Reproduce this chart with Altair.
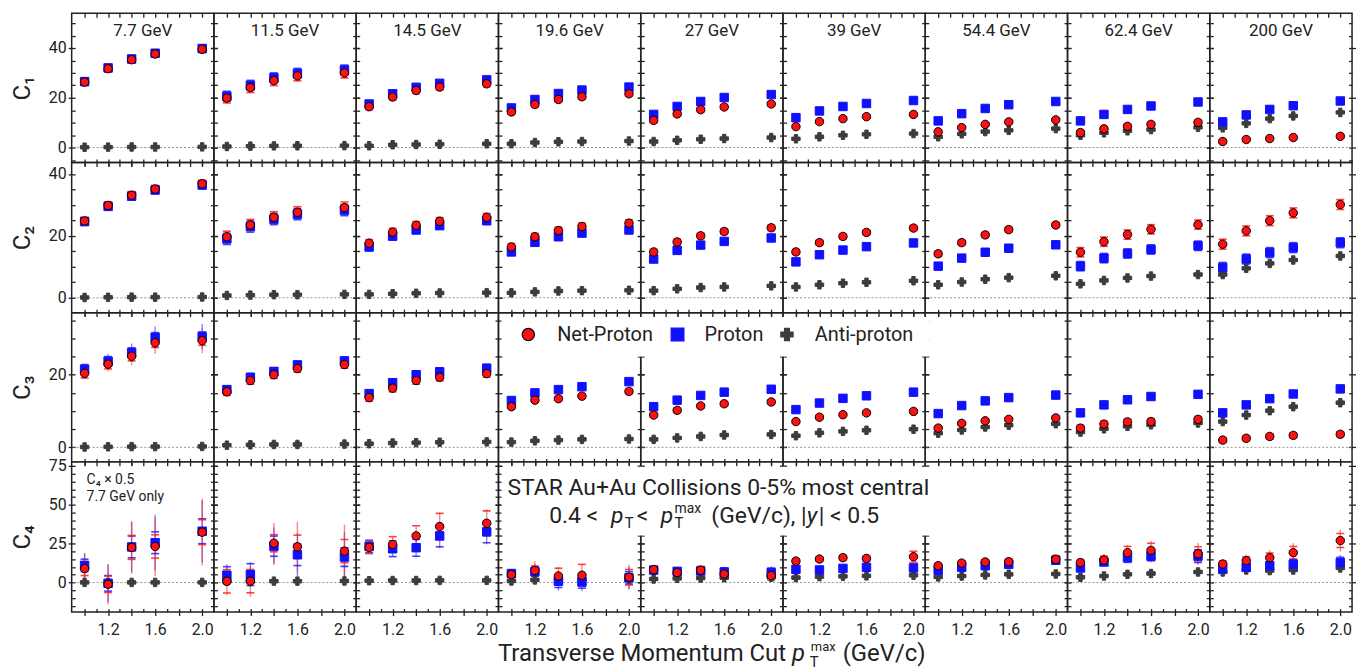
import altair as alt
import pandas as pd

# ---------------------------------------------------------------- data
energies = ["7.7", "11.5", "14.5", "19.6", "27", "39", "54.4", "62.4", "200"]
pt_max = [1.0, 1.2, 1.4, 1.6, 2.0]
moments = ["C1", "C2", "C3", "C4"]
moment_titles = ["C₁", "C₂", "C₃", "C₄"]
series_domain = ["Net-Proton", "Proton", "Anti-proton"]

# C1 (rows = energies, cols = pT max)
c1_net = [[26.3, 31.7, 35.3, 37.6, 39.5], [19.9, 24.1, 26.9, 28.8, 30.0], [16.4, 20.3, 22.9, 24.3, 25.6],
          [14.3, 17.3, 19.3, 20.4, 21.6], [10.9, 13.5, 15.2, 16.3, 17.5], [8.4, 10.4, 11.6, 12.4, 13.3],
          [6.3, 8.0, 9.3, 10.3, 11.1], [6.0, 7.5, 8.5, 9.3, 10.1], [2.4, 3.2, 3.6, 4.0, 4.5]]
c1_pro = [[26.5, 32.0, 35.6, 37.9, 39.8], [20.6, 25.0, 28.0, 29.8, 31.2], [17.5, 21.6, 24.2, 25.8, 27.2],
          [15.9, 19.3, 21.7, 23.1, 24.3], [13.3, 16.5, 18.5, 20.1, 21.3], [12.0, 14.7, 16.5, 17.7, 18.9],
          [10.7, 13.6, 15.7, 17.2, 18.5], [10.7, 13.3, 15.3, 16.7, 18.3], [10.3, 13.1, 15.3, 16.8, 18.7]]
c1_anti = [[0.1, 0.15, 0.2, 0.2, 0.25], [0.4, 0.55, 0.65, 0.7, 0.75], [0.7, 1.1, 1.2, 1.3, 1.5],
           [1.5, 2.0, 2.3, 2.4, 2.6], [2.4, 2.9, 3.3, 3.6, 4.0], [3.5, 4.3, 4.9, 5.3, 5.6],
           [4.3, 5.5, 6.4, 6.9, 7.6], [4.9, 5.9, 6.7, 7.2, 8.1], [7.9, 9.7, 11.6, 12.7, 14.1]]
c1_err = [1.3, 2.0, 1.2, 1.0, 0.9, 0.7, 0.6, 0.9, 0.8]

# C2
c2_net = [[24.8, 29.8, 33.1, 35.1, 36.8], [19.7, 23.5, 26.0, 27.6, 29.1], [17.6, 21.2, 23.4, 24.7, 26.0],
          [16.4, 19.7, 21.7, 23.0, 24.1], [14.8, 18.0, 20.0, 21.4, 22.6], [14.8, 17.8, 19.8, 21.1, 22.5],
          [14.2, 17.8, 20.3, 22.0, 23.5], [14.7, 18.1, 20.4, 22.1, 23.6], [17.3, 21.6, 24.9, 27.4, 30.1]]
c2_pro = [[24.6, 29.5, 32.8, 34.8, 36.4], [19.0, 23.0, 25.4, 27.0, 28.3], [16.4, 19.9, 21.9, 23.3, 24.9],
          [14.8, 17.9, 19.7, 20.9, 21.9], [12.5, 15.3, 17.0, 18.2, 19.3], [11.6, 13.9, 15.4, 16.5, 17.7],
          [10.2, 12.8, 14.7, 16.0, 17.1], [10.2, 12.8, 14.3, 15.6, 16.8], [9.8, 12.5, 14.6, 16.2, 17.8]]
c2_anti = [[0.1, 0.15, 0.2, 0.2, 0.25], [0.75, 0.85, 1.0, 1.0, 1.1], [1.1, 1.3, 1.45, 1.55, 1.65],
           [1.6, 1.9, 2.2, 2.3, 2.4], [2.3, 2.9, 3.3, 3.5, 3.85], [3.5, 4.2, 4.7, 5.0, 5.5],
           [4.2, 5.1, 6.0, 6.5, 7.1], [4.5, 5.6, 6.4, 7.0, 7.5], [7.5, 9.5, 11.1, 12.2, 13.5]]
c2_err = [1.2, 1.8, 1.2, 1.1, 0.9, 0.8, 0.8, 1.5, 1.6]

# C3
c3_net = [[20.4, 22.9, 25.1, 28.8, 29.4], [15.3, 18.4, 20.0, 21.7, 22.8], [13.7, 16.3, 18.4, 19.3, 20.3],
          [11.2, 13.0, 13.4, 14.1, 15.4], [8.9, 10.2, 11.4, 12.0, 12.5], [7.1, 8.3, 9.0, 9.5, 9.9],
          [5.3, 6.6, 7.3, 7.7, 8.1], [5.3, 6.4, 7.0, 7.1, 7.7], [2.0, 2.5, 3.0, 3.3, 3.6]]
c3_pro = [[21.5, 23.7, 26.1, 30.3, 30.5], [15.9, 19.3, 20.9, 22.7, 23.8], [14.8, 17.8, 20.0, 20.8, 21.8],
          [12.9, 15.0, 15.9, 16.7, 18.1], [11.2, 13.0, 14.3, 15.2, 16.0], [10.4, 12.2, 13.5, 14.2, 15.2],
          [9.3, 11.5, 12.8, 13.7, 14.4], [9.5, 11.7, 13.1, 14.0, 14.6], [9.5, 11.7, 13.4, 14.7, 16.1]]
c3_anti = [[0.1, 0.15, 0.2, 0.2, 0.25], [0.6, 0.7, 0.8, 0.8, 0.9], [1.0, 1.2, 1.3, 1.4, 1.5],
           [1.45, 1.8, 2.0, 2.2, 2.3], [2.2, 2.6, 3.0, 3.4, 3.55], [3.2, 4.0, 4.4, 4.7, 5.0],
           [3.9, 4.8, 5.6, 6.1, 6.5], [4.2, 5.1, 5.8, 6.2, 6.7], [7.1, 8.9, 10.1, 11.2, 12.3]]
c3_err = [1.3, 1.0, 1.0, 0.6, 0.6, 0.5, 0.5, 0.8, 0.7]
c3_stat_77 = [1.5, 2.0, 2.5, 3.0, 3.5]

# C4 (7.7 GeV values already multiplied by 0.5 as in the figure)
c4_net = [[9.0, -1.1, 22.6, 23.2, 32.4], [0.8, 0.9, 25.3, 23.0, 20.2], [22.6, 24.5, 30.0, 36.0, 38.1],
          [5.1, 7.7, 4.2, 4.7, 3.4], [8.3, 6.4, 7.9, 5.5, 4.5], [13.8, 15.1, 16.0, 15.5, 16.6],
          [10.8, 12.5, 13.2, 13.4, 14.9], [12.8, 14.5, 19.2, 20.7, 18.5], [11.9, 14.1, 16.0, 19.2, 27.0]]
c4_net_sys = [[4.5, 5.3, 7.7, 7.5, 8.0], [7.5, 7.5, 5.5, 7.5, 7.5], [4.0, 5.0, 6.5, 8.5, 8.0],
              [2.0, 3.0, 5.0, 7.0, 5.0], [2.0, 2.0, 2.5, 2.5, 3.0], [1.5, 1.5, 1.5, 1.8, 3.5],
              [1.5, 1.5, 1.5, 1.8, 2.5], [2.0, 2.5, 4.0, 4.5, 4.5], [2.0, 2.5, 3.0, 4.0, 4.5]]
c4_net_stat = [[9.0, 13.0, 17.0, 19.0, 21.5], [9.0, 10.0, 13.0, 16.0, 17.0], [4.0, 5.0, 6.0, 9.0, 9.0],
               [3.0, 6.0, 6.0, 7.0, 8.0], [2.5, 3.0, 3.5, 3.5, 4.0], [2.0, 2.0, 2.0, 2.5, 3.0],
               [2.0, 2.0, 2.0, 2.5, 3.0], [3.0, 4.0, 5.0, 6.0, 7.0], [3.0, 4.0, 5.0, 6.0, 7.0]]
c4_pro = [[11.0, -0.5, 22.9, 25.6, 33.0], [4.7, 5.1, 23.4, 17.9, 16.4], [23.2, 21.7, 22.4, 30.0, 32.6],
          [5.8, 7.0, 0.8, 0.4, 3.0], [8.0, 7.2, 7.4, 6.8, 6.4], [8.5, 8.1, 9.1, 9.8, 9.4],
          [7.9, 9.8, 10.8, 11.7, 14.3], [9.4, 13.2, 16.0, 17.0, 17.0], [8.9, 9.8, 10.8, 11.7, 12.8]]
c4_pro_sys = [[4.0, 5.0, 7.0, 7.0, 8.0], [5.5, 7.0, 6.5, 7.0, 6.0], [4.0, 5.0, 5.5, 7.0, 7.0],
              [2.0, 3.0, 4.0, 4.0, 4.0], [2.0, 2.0, 2.0, 2.5, 3.0], [1.5, 1.5, 1.5, 1.5, 2.0],
              [1.5, 1.5, 1.5, 1.5, 2.0], [2.0, 2.0, 3.0, 3.0, 4.0], [2.0, 2.0, 2.5, 3.0, 3.5]]
c4_pro_stat = [[8.0, 12.0, 16.0, 18.0, 20.0], [7.0, 8.0, 12.0, 14.0, 16.0], [4.0, 5.0, 6.0, 8.0, 8.0],
               [3.0, 5.0, 6.0, 6.0, 7.0], [2.5, 3.0, 3.0, 3.5, 4.0], [2.0, 2.0, 2.0, 2.0, 2.5],
               [2.0, 2.0, 2.0, 2.0, 2.5], [2.5, 3.0, 3.5, 4.0, 5.0], [2.5, 3.0, 3.5, 4.0, 5.0]]
c4_anti = [[0.1, 0.1, 0.1, 0.1, 0.1], [0.8, 0.9, 0.9, 0.9, 1.0], [1.2, 1.3, 1.3, 1.4, 1.4],
           [1.0, 1.7, 2.0, 2.1, 2.2], [2.3, 2.7, 2.9, 3.1, 3.4], [3.2, 3.8, 4.0, 4.3, 4.7],
           [3.6, 4.2, 4.9, 5.3, 5.5], [3.4, 4.2, 5.3, 5.8, 6.8], [6.8, 8.1, 7.7, 8.1, 9.4]]
anti_err = [0.3, 0.3, 0.3, 0.8]

# texts
energy_labels = [e + " GeV" for e in energies]
star_line1 = "STAR Au+Au Collisions 0-5% most central"
c4_note = ["C₄ × 0.5", "7.7 GeV only"]

# ---------------------------------------------------------------- table
rows = []


def add(moment, series, values, sys, stat):
    for ei, e in enumerate(energies):
        for pi, pt in enumerate(pt_max):
            v = values[ei][pi]
            s = sys[ei][pi]
            st = stat[ei][pi]
            rows.append(dict(moment=moment, energy=e, series=series, pt=pt, value=v,
                             sys_lo=v - s, sys_hi=v + s, stat_lo=v - st, stat_hi=v + st))


def per_energy(err):
    return [[x] * 5 for x in err]


def const(x):
    return [[x] * 5 for _ in energies]


for m, net, pro, anti, err, aerr in [("C1", c1_net, c1_pro, c1_anti, c1_err, anti_err[0]),
                                     ("C2", c2_net, c2_pro, c2_anti, c2_err, anti_err[1]),
                                     ("C3", c3_net, c3_pro, c3_anti, c3_err, anti_err[2])]:
    e_arr = per_energy(err)
    s_arr = per_energy(err)
    if m == "C3":
        s_arr[0] = c3_stat_77
    add(m, "Anti-proton", anti, const(aerr), const(aerr))
    add(m, "Proton", pro, e_arr, s_arr)
    add(m, "Net-Proton", net, e_arr, s_arr)
add("C4", "Anti-proton", c4_anti, const(anti_err[3]), const(anti_err[3]))
add("C4", "Proton", c4_pro, c4_pro_sys, c4_pro_stat)
add("C4", "Net-Proton", c4_net, c4_net_sys, c4_net_stat)
df = pd.DataFrame(rows)
one = pd.DataFrame({"k": [0]})
lab_df = pd.DataFrame({"energy": energies, "label": energy_labels})

# ---------------------------------------------------------------- style
FONT = "Roboto"
INK = "#222222"
PW = 143
row_heights = [150, 151, 150, 151]
x_domain = [0.89, 2.1]
x_ticks = [1.0, 1.1, 1.2, 1.3, 1.4, 1.5, 1.6, 1.7, 1.8, 1.9, 2.0]
y_domains = [[-6, 54], [-4.8, 43.7], [-4, 37.1], [-19, 77.6]]
y_ticks = [list(range(-5, 51, 5)), list(range(0, 41, 5)), list(range(0, 36, 5)), list(range(-15, 76, 5))]
y_major = [20, 20, 20, 25]

series_fill = ["#ff1010", "#1010ff", "#3c3c3c"]
series_stroke = ["#000000", "#1010ff", "#3c3c3c"]
series_shape = ["circle", "square", "cross"]
fill_scale = alt.Scale(domain=series_domain, range=series_fill)
stroke_scale = alt.Scale(domain=series_domain, range=series_stroke)
shape_scale = alt.Scale(domain=series_domain, range=series_shape)
err_scale = alt.Scale(domain=series_domain, range=["#ff2020", "#2020ff", "#505050"])


def text_layer(txt, x, y, size, style="normal", align="left"):
    return alt.Chart(one).mark_text(text=txt, font=FONT, fontSize=size, fontStyle=style, align=align,
                                    baseline="alphabetic", color=INK).encode(x=alt.value(x), y=alt.value(y))


def legend_layers():
    """Key for the three series, drawn over row 3 (placed in the 54.4 GeV cell)."""
    out = [alt.Chart(one).mark_rect(color="white").encode(
        x=alt.value(-426), x2=alt.value(4), y=alt.value(4.5), y2=alt.value(44))]
    sym_x = [-399, -249, -139]
    lab_x = [-370, -222, -111]
    sizes = [150, 165, 150]
    for i, name in enumerate(series_domain):
        out.append(alt.Chart(one).mark_point(filled=True, shape=series_shape[i], size=sizes[i],
                                             fill=series_fill[i], stroke=series_stroke[i],
                                             strokeWidth=1.2, opacity=1).encode(
            x=alt.value(sym_x[i]), y=alt.value(22)))
        out.append(text_layer(name, lab_x[i], 29, 20))
    return out


def panel(mi, ei):
    m = moments[mi]
    e = energies[ei]
    h = row_heights[mi]
    first_col = ei == 0
    last_row = mi == 3
    xs = alt.Scale(domain=x_domain, nice=False, zero=False)
    ys = alt.Scale(domain=y_domains[mi], nice=False, zero=False)
    y_cond = {"condition": {"test": f"datum.value % {y_major[mi]} === 0", "value": 7}, "value": 3.5}
    x_cond = {"condition": {"test": "abs(datum.value * 5 - round(datum.value * 5)) < 0.01", "value": 7},
              "value": 3.5}
    left_kw = dict(orient="left", values=y_ticks[mi], offset=-3.5, tickSize=y_cond, labels=first_col)
    if first_col:
        left_kw.update(title=moment_titles[mi], labelExpr=f"datum.value % {y_major[mi]} === 0 ? datum.label : ''",
                       labelPadding=2, labelOverlap=False, titlePadding=14, titleFontSize=24,
                       titleFontWeight="normal")
    else:
        left_kw.update(title=None)
    bot_kw = dict(orient="bottom", values=x_ticks, offset=-3.5, tickSize=x_cond, labels=last_row, title=None)
    if last_row:
        bot_kw.update(labelExpr="(abs(datum.value-1.2)<0.01 || abs(datum.value-1.6)<0.01 || abs(datum.value-2.0)<0.01) ? format(datum.value, '.1f') : ''",
                      labelPadding=6, labelOverlap=False, labelFlush=False)
    ax_left = alt.Axis(**left_kw)
    ax_bottom = alt.Axis(**bot_kw)
    ax_right = alt.Axis(orient="right", values=y_ticks[mi], offset=-3.5, tickSize=y_cond, labels=False, title=None)
    ax_top = alt.Axis(orient="top", values=x_ticks, offset=-4, tickSize=4, labels=False, title=None)

    base = alt.Chart().transform_filter((alt.datum.moment == m) & (alt.datum.energy == e))
    err_color = alt.Color("series:N", scale=err_scale, legend=None)

    zero = alt.Chart(one).mark_rule(color="#777777", strokeDash=[2, 2], strokeWidth=0.8).encode(
        y=alt.YDatum(0, scale=ys, axis=None))
    stat = base.mark_rule(strokeWidth=1.4, opacity=0.55).encode(
        x=alt.X("pt:Q", scale=xs, axis=ax_top),
        y=alt.Y("stat_lo:Q", scale=ys, axis=ax_right), y2="stat_hi:Q", color=err_color)
    cap_lo = base.mark_tick(orient="horizontal", size=8, thickness=1.6, opacity=0.85).encode(
        x=alt.X("pt:Q", scale=xs, axis=None), y=alt.Y("sys_lo:Q", scale=ys, axis=None), color=err_color)
    cap_hi = base.mark_tick(orient="horizontal", size=8, thickness=1.6, opacity=0.85).encode(
        x=alt.X("pt:Q", scale=xs, axis=None), y=alt.Y("sys_hi:Q", scale=ys, axis=None), color=err_color)
    pts = base.mark_point(filled=True, size=72, strokeWidth=1, opacity=1).encode(
        x=alt.X("pt:Q", scale=xs, axis=ax_bottom),
        y=alt.Y("value:Q", scale=ys, axis=ax_left),
        fill=alt.Fill("series:N", scale=fill_scale, legend=None),
        stroke=alt.Stroke("series:N", scale=stroke_scale, legend=None),
        shape=alt.Shape("series:N", scale=shape_scale, legend=None))
    layers = [zero, stat, cap_lo, cap_hi, pts]

    if mi == 0:
        layers.append(alt.Chart(lab_df).transform_filter(alt.datum.energy == e).mark_text(
            font=FONT, fontSize=17, align="center", baseline="alphabetic", color=INK).encode(
            text="label:N", x=alt.value(PW / 2), y=alt.value(22.5)))
    if mi == 2 and ei == 6:
        layers.extend(legend_layers())
    if mi == 3 and ei == 0:
        layers.append(text_layer(c4_note[0], 15, 22.5, 14))
        layers.append(text_layer(c4_note[1], 15, 39.5, 14))
    if mi == 3 and ei == 4:
        # x-axis title, centred below the whole grid
        layers.append(text_layer("Transverse Momentum Cut", 146, 200, 24, align="right"))
        layers.append(text_layer("p", 152, 200, 24, style="italic"))
        layers.append(text_layer("max", 171, 190, 13))
        layers.append(text_layer("T", 170, 206, 15))
        layers.append(text_layer("(GeV/c)", 203, 200, 24))
    if mi == 3 and ei == 6:
        layers.append(alt.Chart(one).mark_rect(color="white").encode(
            x=alt.value(-426), x2=alt.value(15), y=alt.value(5), y2=alt.value(74)))
        layers.append(text_layer(star_line1, -208, 33, 23, align="center"))
        layers.append(text_layer("0.4 <", -378, 61, 23))
        layers.append(text_layer("p", -316, 61, 23, style="italic"))
        layers.append(text_layer("T", -302, 66, 15))
        layers.append(text_layer("<", -290, 61, 23))
        layers.append(text_layer("p", -266, 61, 23, style="italic"))
        layers.append(text_layer("max", -252, 51, 14))
        layers.append(text_layer("T", -252, 66, 15))
        layers.append(text_layer("(GeV/c), |", -215, 61, 23))
        layers.append(text_layer("y", -119, 61, 23, style="italic"))
        layers.append(text_layer("| < 0.5", -107, 61, 23))

    return alt.layer(*layers).resolve_axis(x="independent", y="independent").properties(width=PW, height=h)


panels = [panel(mi, ei) for mi in range(4) for ei in range(len(energies))]

chart = alt.concat(*panels, columns=9, spacing=0, bounds="flush", data=df).properties(
    padding={"left": 1, "top": 1.5, "right": 5, "bottom": 0}
).configure_view(stroke=INK, strokeWidth=1.5).configure_axis(
    labelFont=FONT, labelFontSize=16, labelColor=INK, tickColor=INK, tickWidth=1.3,
    titleFont=FONT, titleColor=INK, domain=False, grid=False)

chart.save("out.html", embed_options={"renderer": "svg", "actions": False})
